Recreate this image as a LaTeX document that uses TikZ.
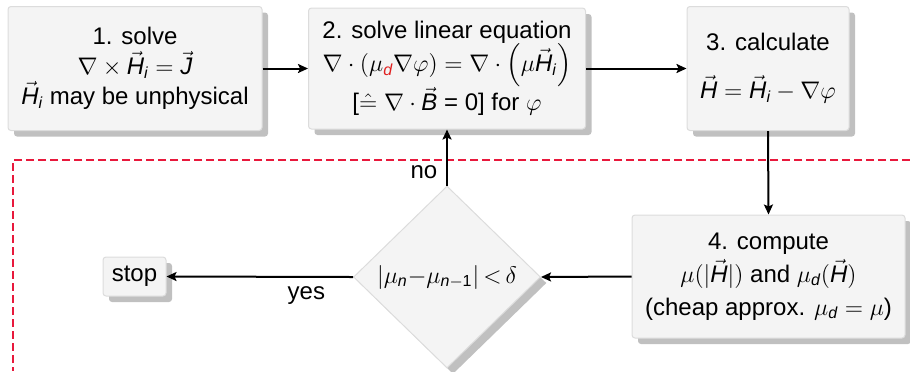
\documentclass[tikz,border=0pt]{standalone}
\usepackage{amsmath}
\usepackage{fontspec}
\setmainfont{Liberation Sans}
\usetikzlibrary{shapes.geometric,shadows,arrows.meta}
\definecolor{boxfill}{HTML}{F4F4F4}
\definecolor{boxline}{HTML}{DCDCDC}
\definecolor{shadowgray}{HTML}{C0C0C0}
\definecolor{dashred}{HTML}{E8193C}
\definecolor{dred}{HTML}{E02020}
\newcommand\mL[1]{\text{\itshape #1}}
\newcommand\vH{\vec{\mL{H}}}
\begin{document}
\begin{tikzpicture}[x=0.5pt,y=-0.5pt,
  font=\fontsize{12}{15}\selectfont,
  shad/.style={general shadow={fill=shadowgray,shadow xshift=3pt,shadow yshift=-3pt}},
  box/.style={draw=boxline,line width=0.5pt,fill=boxfill,rounded corners=1.5pt,
    align=center,inner sep=0pt,shad},
  dia/.style={diamond,aspect=1,draw=boxline,line width=0.5pt,fill=boxfill,
    inner sep=0pt,shad},
  arr/.style={line width=1pt,-{Stealth[length=5pt,width=4.5pt,inset=1pt]}},
  redline/.style={draw=dashred,line width=1pt,dash pattern=on 4pt off 2pt}]
\useasboundingbox (0,0) rectangle (910,371);
\draw[redline] (910,160) -- (13,160) -- (13,371);
\node[box,minimum width=127pt,minimum height=62pt] (b1) at (135,68.5)
  {1. solve\\ $\nabla\times\vH_{\mL{i}} = \vec{\mL{J}}$\\ $\vH_{\mL{i}}$ may be unphysical};
\node[box,minimum width=138.5pt,minimum height=60.5pt] (b2) at (447,68.5)
  {2. solve linear equation\\[-1pt]
   $\nabla\cdot(\mu_{\textcolor{dred}{\mL{d}}}\nabla\varphi) = \nabla\cdot\left(\mu\vH_{\mL{i}}\right)$\\[-1pt]
   {[}$\hat{=}\;\nabla\cdot\vec{\mL{B}}$ = 0{]} for $\varphi$};
\node[box,minimum width=81pt,minimum height=62pt] (b3) at (768,68.5)
  {3. calculate\\[9pt] $\vH = \vH_{\mL{i}} - \nabla\varphi$};
\node[box,minimum width=136.5pt,minimum height=61.5pt,
  font=\fontsize{12}{16.5}\selectfont] (b4) at (768.5,276.5)
  {4. compute\\ $\mu(|\vH|)$ and $\mu_{\mL{d}}(\vH)$\\ (cheap approx. $\mu_{\mL{d}} = \mu$)};
\node[dia,minimum width=93.5pt,minimum height=91pt] (d) at (447,277)
  {$\left|\mu_{\mL{n}}{-}\mu_{\mL{n}-\text{1}}\right|{<}\,\delta$};
\node[box,minimum width=31.5pt,minimum height=19.5pt] (stop) at (134.5,276.5) {stop};
\draw[arr] (b1.east) -- (b2.west);
\draw[arr] (b2.east) -- (b3.west);
\draw[arr] (b3.south) -- (b4.north);
\draw[arr] (b4.west) -- (d.east);
\draw[arr] (d.west) -- node[pos=0.25,below=1pt]{yes} (stop.east);
\draw[arr] (d.north) -- node[pos=0.24,left=1pt]{no} (b2.south);
\end{tikzpicture}
\end{document}
